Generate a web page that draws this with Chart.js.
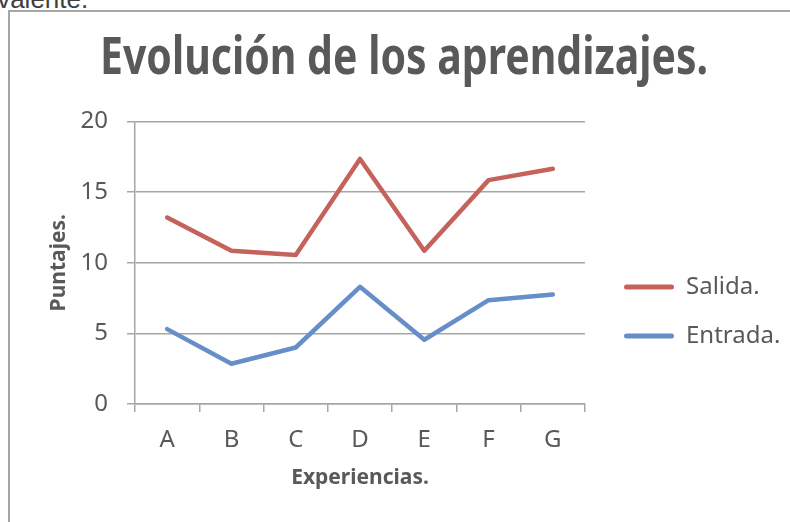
<!DOCTYPE html>
<html>
<head>
<meta charset="utf-8">
<script src="https://cdn.jsdelivr.net/npm/chart.js@4.4.1/dist/chart.umd.min.js"></script>
<style>
    html, body { margin: 0; padding: 0; background: #ffffff; overflow: hidden; }
    body { width: 790px; height: 522px; position: relative; }
    #cut-text {
        position: absolute; left: -52px; top: -14px;
        font: 26px 'Liberation Sans', Arial, sans-serif; line-height: 26px;
        color: #404040; white-space: nowrap;
    }
    #frame {
        position: absolute; left: 8px; top: 10px; width: 820px; height: 600px;
        border-left: 2px solid #a6a6a6; border-top: 2px solid #a6a6a6;
    }
    #chart { position: absolute; left: 0; top: 0; }
</style>
</head>
<body>
<div id="cut-text">equivalente.</div>
<div id="frame"></div>
<canvas id="chart" width="808" height="522" style="width:808px;height:522px"></canvas>
<script>
// --- DATA ---
const experiencias = ['A', 'B', 'C', 'D', 'E', 'F', 'G'];
const salida = [13.2, 10.85, 10.55, 17.35, 10.85, 15.85, 16.65];
const entrada = [5.3, 2.85, 4.0, 8.3, 4.55, 7.35, 7.75];
const yTicks = [0, 5, 10, 15, 20];

const FONT = "'Noto Sans', 'DejaVu Sans', sans-serif";
const TEXT = '#595959';
const GRID = '#a6a6a6';
const SIDE = 42;
const TITLE_SQUEEZE = 0.84;   // no narrow font here, so squeeze the title a bit

// push the legend a bit away from the plot, like the original
const shiftLegend = {
    id: 'shiftLegend',
    afterLayout(chart) {
        chart.legend.left += 14;
        chart.legend.right += 14;
    }
};

const squeezeTitle = {
    id: 'squeezeTitle',
    beforeDraw(chart) {
        const block = chart.titleBlock;
        if (!block || block._squeezed) return;
        const draw = block.draw.bind(block);
        block.draw = function() {
            const c = chart.ctx;
            const cx = (block.left + block.right) / 2;
            c.save();
            c.translate(cx, 0);
            c.scale(TITLE_SQUEEZE, 1);
            c.translate(-cx, 0);
            draw();
            c.restore();
        };
        block._squeezed = true;
    }
};

const ctx = document.getElementById('chart').getContext('2d');

new Chart(ctx, {
    type: 'line',
    data: {
        labels: experiencias,
        datasets: [
            {
                label: 'Salida.',
                data: salida,
                borderColor: '#c4625b',
                backgroundColor: '#c4625b',
                borderWidth: 4.5,
                borderCapStyle: 'round',
                borderJoinStyle: 'round',
                pointRadius: 0,
                tension: 0
            },
            {
                label: 'Entrada.',
                data: entrada,
                borderColor: '#668ec9',
                backgroundColor: '#668ec9',
                borderWidth: 4.5,
                borderCapStyle: 'round',
                borderJoinStyle: 'round',
                pointRadius: 0,
                tension: 0
            }
        ]
    },
    plugins: [shiftLegend, squeezeTitle],
    options: {
        responsive: false,
        animation: false,
        layout: { padding: { left: SIDE, right: SIDE, top: 0, bottom: 31 } },
        plugins: {
            title: {
                display: true,
                text: 'Evolución de los aprendizajes.',
                color: TEXT,
                font: { family: FONT, size: 52, weight: 'bold' },
                padding: { top: 28.3, bottom: 30.8 }
            },
            legend: {
                position: 'right',
                fullSize: false,
                title: { display: true, text: '', padding: { top: 0, bottom: 83 } },
                labels: {
                    color: TEXT,
                    font: { family: FONT, size: 24 },
                    boxWidth: 50,
                    boxHeight: 5,
                    padding: 25,
                    generateLabels: function(chart) {
                        return chart.data.datasets.map((ds, i) => ({
                            text: ds.label,
                            fillStyle: ds.borderColor,
                            strokeStyle: ds.borderColor,
                            lineWidth: 0,
                            borderRadius: 2.5,
                            hidden: false,
                            fontColor: TEXT,
                            datasetIndex: i
                        }));
                    }
                }
            },
            tooltip: { enabled: false }
        },
        scales: {
            x: {
                offset: true,
                grid: { display: true, drawOnChartArea: false, drawTicks: true, tickLength: 8, offset: true, color: GRID, lineWidth: 1.5 },
                border: { display: true, color: GRID, width: 1.5 },
                ticks: { color: TEXT, font: { family: FONT, size: 24 }, padding: 14 },
                title: {
                    display: true,
                    text: 'Experiencias.',
                    color: TEXT,
                    font: { family: FONT, size: 21, weight: 'bold' },
                    padding: { top: -3, bottom: 0 }
                }
            },
            y: {
                min: 0,
                max: 20,
                afterBuildTicks: function(scale) {
                    scale.ticks = yTicks.map(v => ({ value: v }));
                },
                afterFit: function(scale) { scale.width = 135 - SIDE; },
                grid: { color: GRID, lineWidth: 1.5, tickLength: 8 },
                border: { display: true, color: GRID, width: 1.5 },
                ticks: { color: TEXT, font: { family: FONT, size: 24 }, padding: 19 },
                title: {
                    display: true,
                    text: 'Puntajes.',
                    color: TEXT,
                    font: { family: FONT, size: 21, weight: 'bold' },
                    padding: { top: 59.5 - SIDE - 12.6, bottom: 0 }
                }
            }
        }
    }
});
</script>
</body>
</html>
